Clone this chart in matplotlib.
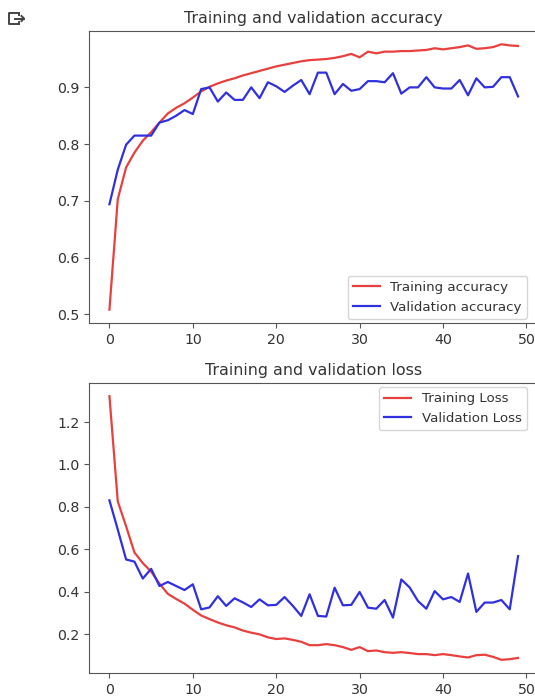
import matplotlib
matplotlib.use("Agg")
import matplotlib.pyplot as plt
from matplotlib.lines import Line2D

epochs = list(range(50))

train_acc = [0.508, 0.703, 0.759, 0.785, 0.806, 0.821, 0.838, 0.854, 0.864, 0.872,
             0.882, 0.893, 0.901, 0.907, 0.912, 0.916, 0.921, 0.925, 0.929, 0.933,
             0.937, 0.940, 0.943, 0.946, 0.948, 0.949, 0.950, 0.952, 0.955, 0.959,
             0.953, 0.963, 0.960, 0.963, 0.963, 0.964, 0.964, 0.965, 0.966, 0.969,
             0.967, 0.969, 0.971, 0.974, 0.968, 0.969, 0.971, 0.976, 0.974, 0.973]
val_acc = [0.694, 0.755, 0.799, 0.815, 0.815, 0.815, 0.838, 0.842, 0.850, 0.860,
           0.853, 0.897, 0.900, 0.875, 0.891, 0.878, 0.878, 0.900, 0.881, 0.909,
           0.902, 0.892, 0.903, 0.913, 0.888, 0.926, 0.926, 0.888, 0.906, 0.894,
           0.897, 0.911, 0.911, 0.909, 0.925, 0.889, 0.900, 0.900, 0.918, 0.900,
           0.898, 0.898, 0.913, 0.886, 0.916, 0.900, 0.901, 0.918, 0.918, 0.884]

train_loss = [1.322, 0.826, 0.708, 0.585, 0.535, 0.495, 0.438, 0.390, 0.366, 0.344,
              0.315, 0.288, 0.271, 0.255, 0.242, 0.232, 0.217, 0.207, 0.199, 0.185,
              0.177, 0.180, 0.173, 0.164, 0.148, 0.148, 0.153, 0.148, 0.139, 0.126,
              0.139, 0.120, 0.123, 0.115, 0.112, 0.115, 0.111, 0.106, 0.106, 0.101,
              0.106, 0.101, 0.095, 0.090, 0.101, 0.103, 0.093, 0.079, 0.082, 0.088]
val_loss = [0.831, 0.693, 0.552, 0.542, 0.462, 0.508, 0.427, 0.446, 0.427, 0.408,
            0.435, 0.317, 0.326, 0.379, 0.333, 0.369, 0.350, 0.328, 0.364, 0.336,
            0.338, 0.375, 0.333, 0.286, 0.388, 0.286, 0.283, 0.419, 0.336, 0.338,
            0.399, 0.325, 0.320, 0.361, 0.278, 0.458, 0.420, 0.356, 0.320, 0.403,
            0.364, 0.375, 0.352, 0.486, 0.305, 0.349, 0.349, 0.361, 0.317, 0.568]

W, H = 535, 700
fig = plt.figure(figsize=(W / 100, H / 100), dpi=100)

RED = '#e8403f'
BLUE = '#3030e0'
TXT = '#333333'
SPINE = '#555555'

def rect(l, t, r, b):
    return [l / W, 1 - b / H, (r - l) / W, (b - t) / H]

ax1 = fig.add_axes(rect(89, 31, 538.5, 323))
ax2 = fig.add_axes(rect(89, 383, 538.5, 673))

for ax in (ax1, ax2):
    for s in ax.spines.values():
        s.set_color(SPINE)
    ax.tick_params(colors=SPINE, labelcolor=TXT, labelsize=10.2)

ax1.plot(epochs, train_acc, color=RED, lw=1.6, label='Training accuracy')
ax1.plot(epochs, val_acc, color=BLUE, lw=1.6, label='Validation accuracy')
ax1.set_title('Training and validation accuracy', fontsize=11.4, color=TXT)
ax1.legend(loc='lower right', fontsize=9.6, labelcolor=TXT,
           bbox_to_anchor=(531 / W, 1 - 323 / H), bbox_transform=fig.transFigure,
           borderaxespad=0.3)

ax2.plot(epochs, train_loss, color=RED, lw=1.6, label='Training Loss')
ax2.plot(epochs, val_loss, color=BLUE, lw=1.6, label='Validation Loss')
ax2.set_title('Training and validation loss', fontsize=11.4, color=TXT)
ax2.legend(loc='upper right', fontsize=9.6, labelcolor=TXT,
           bbox_to_anchor=(531 / W, 1 - 383 / H), bbox_transform=fig.transFigure,
           borderaxespad=0.3)

# Colab output icon (top-left)
def P(x, y):
    return (x / W, 1 - y / H)

icon = [[(19, 13), (9, 13), (9, 24), (19, 24)],
        [(19, 13), (19, 15)], [(19, 22), (19, 24)],
        [(15, 18.5), (24, 18.5)], [(21.5, 16), (24, 18.5), (21.5, 21)]]
for seg in icon:
    xs = [P(*p)[0] for p in seg]
    ys = [P(*p)[1] for p in seg]
    fig.add_artist(Line2D(xs, ys, color='#444444', lw=1.4, transform=fig.transFigure))

fig.savefig('out.png', dpi=100)
